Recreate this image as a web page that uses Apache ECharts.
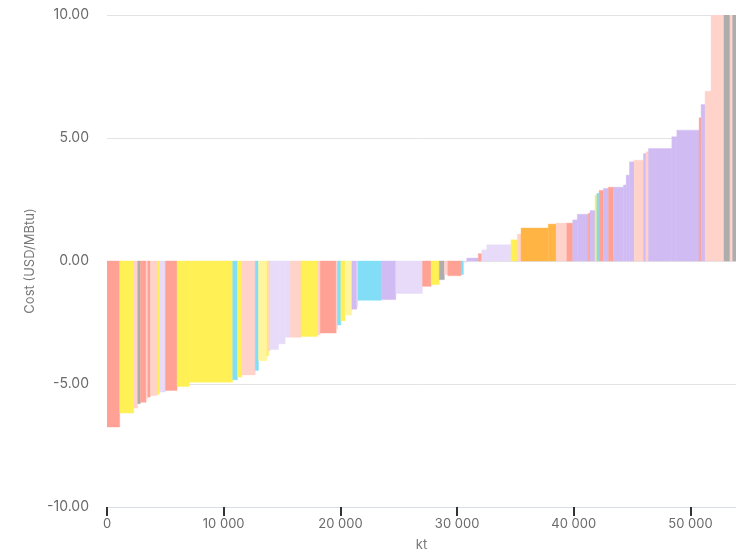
<!DOCTYPE html>
<html>
<head>
<meta charset="utf-8">
<script src="https://cdn.jsdelivr.net/npm/echarts@6/dist/echarts.min.js"></script>
<style>html,body{margin:0;padding:0;background:#fff}#c{width:736px;height:557px}</style>
</head>
<body>
<div id="c"></div>
<script>
// Abatement volume (kt) per measure, in order along the curve
var widths = [1090,1200,340,230,490,140,230,570,200,510,1000,1050,3720,410,380,1140,280,720,140,150,710,570,430,920,1420,230,1370,110,290,370,570,430,90,1990,1260,2280,740,710,430,290,1140,200,290,990,290,430,2080,540,320,2340,660,920,510,390,940,150,430,150,200,370,430,430,860,230,280,400,800,210,220,2000,430,1910,170,340,510,1110,510,230,500];
// Cost (USD/MBtu) per measure
var costs = [-6.75,-6.18,-5.98,-5.8,-5.74,-5.6,-5.53,-5.47,-5.42,-5.33,-5.26,-5.1,-4.93,-4.83,-4.72,-4.63,-4.45,-4.05,-3.85,-3.64,-3.6,-3.37,-3.1,-3.1,-3.07,-3.0,-2.93,-2.77,-2.6,-2.43,-2.2,-1.96,-1.84,-1.6,-1.57,-1.32,-1.03,-0.96,-0.76,-0.55,-0.6,-0.55,-0.05,0.12,0.3,0.45,0.66,0.86,1.09,1.34,1.5,1.54,1.54,1.67,1.9,1.94,2.05,2.68,2.75,2.87,2.95,3.0,3.0,3.09,3.49,4.03,4.1,4.37,4.44,4.57,5.05,5.32,5.82,6.36,6.9,12,12,12,12];
// Colour group of each measure
var groups = ['S','Y','P','G','S','P','S','P','Y','L','S','Y','Y','C','Y','P','C','LY','Y','P','L','L','L','P','Y','P','S','P','C','Y','LY','V','L','C','V','L','S','Y','G','P','S','C','L','V','S','L','L','Y','P','O','O','P','S','V','V','S','V','Y','C','S','V','S','V','V','V','V','P','V','P','V','V','V','S','V','P','P','G','P','G'];
var groupColors = {S:'#FFA194',Y:'#FFF056',P:'#FFD2CA',G:'#ADADAD',L:'#E7DBF9',V:'#D1BBF3',C:'#82DEF6',O:'#FFB443',LY:'#FFF59F'};
var xTicks = [0,10000,20000,30000,40000,50000];

var data = [];
var acc = 0;
for (var i = 0; i < widths.length; i++) {
  data.push({value:[acc, acc + widths[i], costs[i]], color: groupColors[groups[i]]});
  acc += widths[i];
}

var chart = echarts.init(document.getElementById('c'));
var font = 'Inter, "Noto Sans", sans-serif';
chart.setOption({
  animation:false,
  backgroundColor:'#ffffff',
  grid:{left:107,right:0,top:15,bottom:44},
  xAxis:{
    type:'value', min:0, max:53900,
    position:'bottom',
    name:'kt', nameLocation:'middle', nameGap:32,
    nameTextStyle:{color:'#777',fontSize:13,fontFamily:font},
    axisLine:{show:true,onZero:false,lineStyle:{color:'#D8DDE8',width:1}},
    axisTick:{show:true,inside:false,length:9,customValues:xTicks,lineStyle:{color:'#333333',width:2}},
    axisLabel:{customValues:xTicks,color:'#6a6a6a',fontSize:13,fontFamily:font,margin:11,
      formatter:function(v){return String(v).replace(/\B(?=(\d{3})+(?!\d))/g,' ');}},
    splitLine:{show:false},
    z:10
  },
  yAxis:{
    type:'value', min:-10, max:10, interval:5,
    name:'Cost (USD/MBtu)', nameLocation:'middle', nameGap:70,
    nameTextStyle:{color:'#777',fontSize:13,fontFamily:font},
    axisLine:{show:false}, axisTick:{show:false},
    axisLabel:{color:'#6a6a6a',fontSize:14,fontFamily:font,margin:18,
      formatter:function(v){return v.toFixed(2);}},
    splitLine:{show:true,lineStyle:{color:'#E3E3E3'}}
  },
  series:[{
    type:'custom', clip:true,
    encode:{x:[0,1],y:2},
    data:data.map(function(d){return d.value;}),
    renderItem:function(params, api){
      var x0 = api.value(0), x1 = api.value(1), y = api.value(2);
      var p0 = api.coord([x0, 0]);
      var p1 = api.coord([x1, y]);
      var c = data[params.dataIndex].color;
      return {type:'rect',
        shape:{x:p0[0], y:Math.min(p0[1],p1[1]), width:p1[0]-p0[0], height:Math.abs(p1[1]-p0[1])},
        style:{fill:c, stroke:c, lineWidth:0.4}};
    }
  }]
});
</script>
</body>
</html>
